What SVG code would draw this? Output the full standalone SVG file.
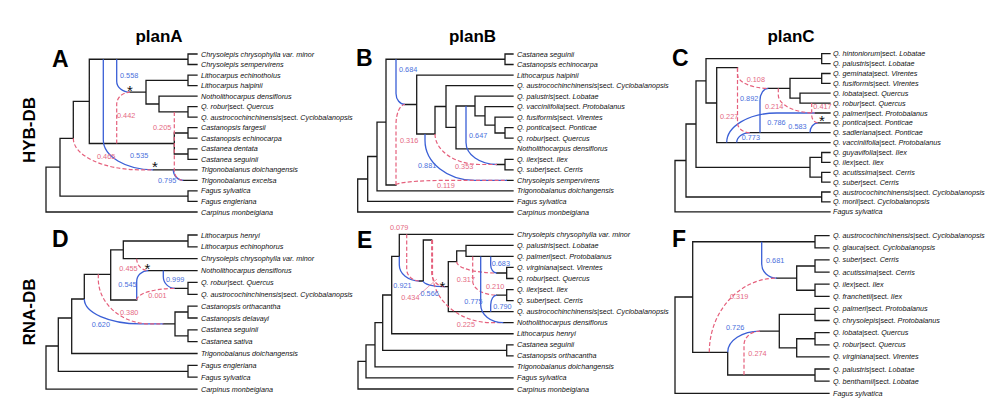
<svg xmlns="http://www.w3.org/2000/svg" width="1000" height="408" viewBox="0 0 1000 408">
<style>
text{font-family:"Liberation Sans",Arial,sans-serif}
.k{fill:none;stroke:#1a1a1a;stroke-width:1.3;stroke-linecap:square}
.b{fill:none;stroke:#3a5fd6;stroke-width:1.3}
.p{fill:none;stroke:#e5607c;stroke-width:1.2;stroke-dasharray:4 2.2}
.t{font-size:7.2px;font-style:italic;fill:#111}
.u{font-style:normal}
.gb{font-size:7.3px;fill:#4a70dc}
.gp{font-size:7.3px;fill:#e56a84}
.L{font-size:23px;font-weight:bold;fill:#000}
.T{font-size:17px;font-weight:bold;text-anchor:middle;fill:#000}
.ast{font-size:15px;text-anchor:middle;fill:#111}
</style>
<rect width="1000" height="408" fill="#fff"/>
<g id="titles">
<text class="T" x="159" y="42">planA</text>
<text class="T" x="472.5" y="42">planB</text>
<text class="T" x="791" y="42">planC</text>
<text class="T" transform="translate(34.5,130) rotate(-90)">HYB-DB</text>
<text class="T" transform="translate(34.5,312) rotate(-90)">RNA-DB</text>
</g>

<!-- ============ Panel A ============ -->
<g id="panelA">
<text class="L" x="52" y="67">A</text>
<g id="A-edges">
<path class="k" d="M46,212 H197 M46,212 V167.2 H60 M60,138.3 V196.2 H188 M197,190.9 H188 V201.4 H197 M60,138.3 H73.3 V101.4 H89.3 M89.3,59.25 V143.5 M89.3,59.25 H188 M89.3,143.5 H174.3 M197,54 H188 V64.5 H197 M197,75.1 H188 V85.6 H197 M146,80.35 H188 M130,92.2 H146 M146,80.35 V104 H159 M159,96.1 V111.95 M159,96.1 H197 M159,111.95 H188 M197,106.7 H188 V117.2 H197 M174.3,133 V154 M174.3,133 H188 M174.3,154 H188 M197,127.7 H188 V138.2 H197 M197,148.8 H188 V159.3 H197 M153.3,169.8 H197 M183.3,180.4 H197"/>
<path class="b" d="M116.7,59.25 V81.2 C116.7,87.27 122.66,92.2 130,92.2"/>
<path class="p" d="M116.7,143.5 V104.2 C116.7,97.58 122.66,92.2 130,92.2"/>
<path class="b" d="M103.3,59.25 V139.8 C103.3,156.36 125.7,169.8 153.3,169.8"/>
<path class="p" d="M73.3,138.3 C73.3,155.69 103.3,169.8 140.3,169.8 H153.3"/>
<path class="b" d="M173.3,169.8 C173.3,175.65 177.78,180.4 183.3,180.4"/>
<path class="p" d="M174.3,111.95 V170.4 C174.3,175.92 178.33,180.4 183.3,180.4"/>
</g>
<g id="A-gamma">
<text class="gb" x="120" y="77.6">0.558</text>
<text class="gp" x="117" y="117.6">0.442</text>
<text class="gp" x="153" y="130">0.205</text>
<text class="gp" x="97" y="159.3">0.465</text>
<text class="gb" x="130" y="158">0.535</text>
<text class="gb" x="158" y="182.6">0.795</text>
<text class="ast" x="130" y="96">*</text>
<text class="ast" x="155" y="172">*</text>
</g>
<g id="A-taxa">
<text class="t" x="201" y="56.5">Chrysolepis chrysophylla var. minor</text>
<text class="t" x="201" y="67">Chrysolepis sempervirens</text>
<text class="t" x="201" y="77.6">Lithocarpus echinotholus</text>
<text class="t" x="201" y="88.1">Lithocarpus haipinii</text>
<text class="t" x="201" y="98.6">Notholithocarpus densiflorus</text>
<text class="t" x="201" y="109.2">Q. robur<tspan class="u">|sect. </tspan>Quercus</text>
<text class="t" x="201" y="119.7">Q. austrocochinchinensis<tspan class="u">|sect. </tspan>Cyclobalanopsis</text>
<text class="t" x="201" y="130.2">Castanopsis fargesii</text>
<text class="t" x="201" y="140.7">Castanopsis echinocarpa</text>
<text class="t" x="201" y="151.3">Castanea dentata</text>
<text class="t" x="201" y="161.8">Castanea seguinii</text>
<text class="t" x="201" y="172.3">Trigonobalanus doichangensis</text>
<text class="t" x="201" y="182.9">Trigonobalanus excelsa</text>
<text class="t" x="201" y="193.4">Fagus sylvatica</text>
<text class="t" x="201" y="203.9">Fagus engleriana</text>
<text class="t" x="201" y="214.5">Carpinus monbeigiana</text>
</g>
</g>

<!-- ============ Panel B ============ -->
<g id="panelB">
<text class="L" x="356" y="66">B</text>
<g id="B-edges">
<path class="k" d="M357.7,212 H513 M357.7,212 V179 H367.7 M367.7,156.5 V201.4 H513 M367.7,156.5 H377 M377,122.1 V190.9 H513 M377,122.1 H386 M386,59.25 V185 H396 M386,59.25 H505 M513,54 H505 V64.5 H513 M405,104.5 H416.7 M416.7,75.1 V134 H435 M416.7,75.1 H513 M435,134 V106.5 H446 M446,85.6 V127.4 H456 M446,85.6 H513 M456,106 V148.8 H513 M456,106 H475 M475,96.1 V115.9 H485 M475,96.1 H513 M485,106.7 V125.1 H495 M485,106.7 H513 M495,117.2 V133 H505 M495,117.2 H513 M513,127.7 H505 V138.2 H513 M497,164.5 H505 M513,159.3 H505 V169.8 H513 M507,180.4 H513"/>
<path class="b" d="M396,59.25 V93.5 C396,99.57 400.03,104.5 405,104.5"/>
<path class="p" d="M396,185 V124.5 C396,113.46 400.03,104.5 405,104.5"/>
<path class="b" d="M425,134 V140.4 C425,162.48 447.4,180.4 475,180.4 H507"/>
<path class="p" d="M396,185 C396,182.46 418.4,180.4 446,180.4 H507"/>
<path class="b" d="M466,106 V142.5 C466,154.64 479.89,164.5 497,164.5"/>
<path class="p" d="M435,134 C435,150.84 455.16,164.5 480,164.5 H497"/>
</g>
<g id="B-gamma">
<text class="gb" x="399" y="71.6">0.684</text>
<text class="gp" x="400" y="143.3">0.316</text>
<text class="gb" x="469" y="137.6">0.647</text>
<text class="gb" x="418" y="167.6">0.881</text>
<text class="gp" x="455" y="169.3">0.353</text>
<text class="gp" x="437" y="187.6">0.119</text>
</g>
<g id="B-taxa">
<text class="t" x="517" y="56.5">Castanea seguinii</text>
<text class="t" x="517" y="67">Castanopsis echinocarpa</text>
<text class="t" x="517" y="77.6">Lithocarpus haipinii</text>
<text class="t" x="517" y="88.1">Q. austrocochinchinensis<tspan class="u">|sect. </tspan>Cyclobalanopsis</text>
<text class="t" x="517" y="98.6">Q. palustris<tspan class="u">|sect. </tspan>Lobatae</text>
<text class="t" x="517" y="109.2">Q. vacciniifolia<tspan class="u">|sect. </tspan>Protobalanus</text>
<text class="t" x="517" y="119.7">Q. fusiformis<tspan class="u">|sect. </tspan>Virentes</text>
<text class="t" x="517" y="130.2">Q. pontica<tspan class="u">|sect. </tspan>Ponticae</text>
<text class="t" x="517" y="140.7">Q. robur<tspan class="u">|sect. </tspan>Quercus</text>
<text class="t" x="517" y="151.3">Notholithocarpus densiflorus</text>
<text class="t" x="517" y="161.8">Q. ilex<tspan class="u">|sect. </tspan>Ilex</text>
<text class="t" x="517" y="172.3">Q. suber<tspan class="u">|sect. </tspan>Cerris</text>
<text class="t" x="517" y="182.9">Chrysolepis sempervirens</text>
<text class="t" x="517" y="193.4">Trigonobalanus doichangensis</text>
<text class="t" x="517" y="203.9">Fagus sylvatica</text>
<text class="t" x="517" y="214.5">Carpinus monbeigiana</text>
</g>
</g>

<!-- ============ Panel C ============ -->
<g id="panelC">
<text class="L" x="672" y="66">C</text>
<g id="C-edges">
<path class="k" d="M675,211.8 H830 M675,211.8 V160.5 H686 M686,124 V197 H821.7 M686,124 H696 M696,80.8 V167.3 H810 M696,80.8 H706 M706,58.65 V103 H716.7 M706,58.65 H821.7 M830,53.7 H821.7 V63.6 H830 M716.7,67.7 V142.6 H830 M716.7,67.7 H737.5 M768.3,88.3 H790 M790,78.4 V98.15 H800 M790,78.4 H821.7 M830,73.5 H821.7 V83.3 H830 M830,93.2 H800 V103.1 H830 M815,113 H830 M818,122.9 H830 M750,132.7 H830 M810,157.45 V177.2 M810,157.45 H821.7 M810,177.2 H821.7 M830,152.5 H821.7 V162.4 H830 M830,172.3 H821.7 V182.1 H830 M830,192 H821.7 V201.9 H830"/>
<path class="b" d="M760,132.7 V100.3 C760,93.68 763.72,88.3 768.3,88.3"/>
<path class="p" d="M737.5,67.7 V74.3 C737.5,82.03 751.3,88.3 768.3,88.3"/>
<path class="b" d="M726.7,142.6 C726.7,126.26 749.1,113 776.7,113 H815"/>
<path class="p" d="M778.3,88.3 V95 C778.3,104.94 794.74,113 815,113"/>
<path class="b" d="M810,132.7 C810,127.29 813.58,122.9 818,122.9"/>
<path class="p" d="M811.7,103.1 V114.9 C811.7,119.32 814.52,122.9 818,122.9"/>
<path class="b" d="M736.7,142.6 C736.7,137.14 742.66,132.7 750,132.7"/>
<path class="p" d="M737.5,67.7 V122.7 C737.5,128.22 743.1,132.7 750,132.7"/>
</g>
<g id="C-gamma">
<text class="gp" x="746.7" y="82">0.108</text>
<text class="gb" x="740" y="101">0.892</text>
<text class="gp" x="765" y="109.3">0.214</text>
<text class="gp" x="813.3" y="109.3">0.417</text>
<text class="gp" x="720" y="118.6">0.227</text>
<text class="gb" x="767.3" y="125.3">0.786</text>
<text class="gb" x="788.3" y="129.3">0.583</text>
<text class="gb" x="741.7" y="140">0.773</text>
<text class="ast" x="822" y="126">*</text>
</g>
<g id="C-taxa">
<text class="t" x="833" y="56.2">Q. hintoniorum<tspan class="u">|sect. </tspan>Lobatae</text>
<text class="t" x="833" y="66.1">Q. palustris<tspan class="u">|sect. </tspan>Lobatae</text>
<text class="t" x="833" y="76">Q. geminata<tspan class="u">|sect. </tspan>Virentes</text>
<text class="t" x="833" y="85.8">Q. fusiformis<tspan class="u">|sect. </tspan>Virentes</text>
<text class="t" x="833" y="95.7">Q. lobata<tspan class="u">|sect. </tspan>Quercus</text>
<text class="t" x="833" y="105.6">Q. robur<tspan class="u">|sect. </tspan>Quercus</text>
<text class="t" x="833" y="115.5">Q. palmeri<tspan class="u">|sect. </tspan>Protobalanus</text>
<text class="t" x="833" y="125.4">Q. pontica<tspan class="u">|sect. </tspan>Ponticae</text>
<text class="t" x="833" y="135.2">Q. sadleriana<tspan class="u">|sect. </tspan>Ponticae</text>
<text class="t" x="833" y="145.1">Q. vacciniifolia<tspan class="u">|sect. </tspan>Protobalanus</text>
<text class="t" x="833" y="155">Q. guyavifolia<tspan class="u">|sect. </tspan>Ilex</text>
<text class="t" x="833" y="164.9">Q. ilex<tspan class="u">|sect. </tspan>Ilex</text>
<text class="t" x="833" y="174.8">Q. acutissima<tspan class="u">|sect. </tspan>Cerris</text>
<text class="t" x="833" y="184.6">Q. suber<tspan class="u">|sect. </tspan>Cerris</text>
<text class="t" x="833" y="194.5">Q. austrocochinchinensis<tspan class="u">|sect. </tspan>Cyclobalanopsis</text>
<text class="t" x="833" y="204.4">Q. morii<tspan class="u">|sect. </tspan>Cyclobalanopsis</text>
<text class="t" x="833" y="214.3">Fagus sylvatica</text>
</g>
</g>

<!-- ============ Panel D ============ -->
<g id="panelD">
<text class="L" x="52" y="247">D</text>
<g id="D-edges">
<path class="k" d="M46,389.1 H197 M46,389.1 V346 H58.3 M58.3,318 V371.3 H188 M58.3,318 H71.7 M71.7,299 V353.5 H197 M71.7,299 H84.3 M84.3,299 V274.3 H110.7 M110.7,249.9 V300 H136.7 M110.7,249.9 H123.3 M123.3,241 V258.7 H197 M123.3,241 H188 M197,235 H188 V246.9 H197 M148.3,270.6 H197 M175,288.4 H188 M197,282.4 H188 V294.3 H197 M163.3,323.9 H175 M175,312 V335.8 M175,312 H188 M175,335.8 H188 M197,306.1 H188 V318 H197 M197,329.8 H188 V341.7 H197 M197,365.4 H188 V377.2 H197"/>
<path class="b" d="M136.7,300 V281.6 C136.7,275.53 141.9,270.6 148.3,270.6"/>
<path class="p" d="M136.7,258.7 C136.7,265.27 141.9,270.6 148.3,270.6"/>
<path class="b" d="M163.3,270.6 V276.4 C163.3,283.02 168.54,288.4 175,288.4"/>
<path class="p" d="M136.7,300 C136.7,293.6 153.86,288.4 175,288.4"/>
<path class="b" d="M84.3,299 C84.3,312.74 109.39,323.9 140.3,323.9 H163.3"/>
<path class="p" d="M98.3,274.3 V278.9 C98.3,303.74 121.6,323.9 150.3,323.9 H163.3"/>
</g>
<g id="D-gamma">
<text class="gp" x="119.3" y="271">0.455</text>
<text class="gb" x="118.3" y="287">0.545</text>
<text class="gb" x="166" y="281.6">0.999</text>
<text class="gp" x="148.3" y="297.6">0.001</text>
<text class="gp" x="120" y="315">0.380</text>
<text class="gb" x="91.7" y="327">0.620</text>
<text class="ast" x="147.3" y="274.3">*</text>
</g>
<g id="D-taxa">
<text class="t" x="201" y="237.5">Lithocarpus henryi</text>
<text class="t" x="201" y="249.4">Lithocarpus echinophorus</text>
<text class="t" x="201" y="261.2">Chrysolepis chrysophylla var. minor</text>
<text class="t" x="201" y="273.1">Notholithocarpus densiflorus</text>
<text class="t" x="201" y="284.9">Q. robur<tspan class="u">|sect. </tspan>Quercus</text>
<text class="t" x="201" y="296.8">Q. austrocochinchinensis<tspan class="u">|sect. </tspan>Cyclobalanopsis</text>
<text class="t" x="201" y="308.6">Castanopsis orthacantha</text>
<text class="t" x="201" y="320.5">Castanopsis delavayi</text>
<text class="t" x="201" y="332.3">Castanea seguinii</text>
<text class="t" x="201" y="344.2">Castanea sativa</text>
<text class="t" x="201" y="356">Trigonobalanus doichangensis</text>
<text class="t" x="201" y="367.9">Fagus engleriana</text>
<text class="t" x="201" y="379.7">Fagus sylvatica</text>
<text class="t" x="201" y="391.6">Carpinus monbeigiana</text>
</g>
</g>

<!-- ============ Panel E ============ -->
<g id="panelE">
<text class="L" x="357" y="248">E</text>
<g id="E-edges">
<path class="k" d="M358,389 H513 M358,389 V361.4 H366 M366,344.8 V377.95 H513 M366,344.8 H375 M375,322.7 V366.9 H513 M375,322.7 H382.7 M382.7,295 V350.3 H506.7 M382.7,295 H391.7 M513,344.8 H506.7 V355.85 H513 M391.7,256.4 V333.75 H513 M391.7,256.4 H399.3 M399.3,256.4 V234.3 H513 M419.3,281 H423.3 M423.3,281 V240 H431.7 M445,286.7 H448.3 M448.3,261.7 V311.65 H513 M448.3,261.7 H456.7 M456.7,261.7 V250.9 H466 M513,245.35 H466 V256.4 H513 M496.7,273 H506.7 M513,267.45 H506.7 V278.5 H513 M496.7,295.1 H506.7 M513,289.55 H506.7 V300.6 H513 M503.3,322.7 H513"/>
<path class="b" d="M399.3,256.4 V265 C399.3,273.83 408.26,281 419.3,281"/>
<path class="p" d="M406.7,234.3 V269 C406.7,275.62 412.34,281 419.3,281"/>
<path class="b" d="M423.3,281 C423.3,284.15 433.02,286.7 445,286.7"/>
<path class="p" d="M431.7,240 V272.7 C431.7,280.43 437.66,286.7 445,286.7"/>
<path class="p" d="M432.5,240 V272.7 C432.5,300.3 459.4,322.7 491.7,322.7 H503.3"/>
<path class="p" d="M456.7,261.7 C456.7,267.94 474.62,273 496.7,273"/>
<path class="b" d="M490.7,256.4 V265 C490.7,269.42 493.39,273 496.7,273"/>
<path class="p" d="M472.7,256.4 V281.1 C472.7,288.83 483.45,295.1 496.7,295.1"/>
<path class="b" d="M480.7,256.4 V304.7 C480.7,314.64 490.82,322.7 503.3,322.7"/>
<path class="b" d="M490.7,311.65 V305.1 C490.7,299.58 493.39,295.1 496.7,295.1"/>
<path fill="none" stroke="#e5607c" stroke-width="0.6" d="M419,295 L437,279"/>
</g>
<g id="E-gamma">
<text class="gp" x="390" y="230.3">0.079</text>
<text class="gb" x="393.3" y="287.6">0.921</text>
<text class="gp" x="401.2" y="300.3">0.434</text>
<text class="gb" x="420.5" y="296">0.566</text>
<text class="gp" x="456.7" y="281.6">0.317</text>
<text class="gb" x="491.7" y="266">0.683</text>
<text class="gp" x="486" y="289.3">0.210</text>
<text class="gb" x="464.3" y="303.6">0.775</text>
<text class="gb" x="493.3" y="309.3">0.790</text>
<text class="gp" x="456.7" y="326.6">0.225</text>
<text class="ast" x="442.5" y="292">*</text>
</g>
<g id="E-taxa">
<text class="t" x="517" y="236.8">Chrysolepis chrysophylla var. minor</text>
<text class="t" x="517" y="247.85">Q. palustris<tspan class="u">|sect. </tspan>Lobatae</text>
<text class="t" x="517" y="258.9">Q. palmeri<tspan class="u">|sect. </tspan>Protobalanus</text>
<text class="t" x="517" y="269.95">Q. virginiana<tspan class="u">|sect. </tspan>Virentes</text>
<text class="t" x="517" y="281">Q. robur<tspan class="u">|sect. </tspan>Quercus</text>
<text class="t" x="517" y="292.05">Q. ilex<tspan class="u">|sect. </tspan>Ilex</text>
<text class="t" x="517" y="303.1">Q. suber<tspan class="u">|sect. </tspan>Cerris</text>
<text class="t" x="517" y="314.15">Q. austrocochinchinensis<tspan class="u">|sect. </tspan>Cyclobalanopsis</text>
<text class="t" x="517" y="325.2">Notholithocarpus densiflorus</text>
<text class="t" x="517" y="336.25">Lithocarpus henryi</text>
<text class="t" x="517" y="347.3">Castanea seguinii</text>
<text class="t" x="517" y="358.35">Castanopsis orthacantha</text>
<text class="t" x="517" y="369.4">Trigonobalanus doichangensis</text>
<text class="t" x="517" y="380.45">Fagus sylvatica</text>
<text class="t" x="517" y="391.5">Carpinus monbeigiana</text>
</g>
</g>

<!-- ============ Panel F ============ -->
<g id="panelF">
<text class="L" x="672" y="247">F</text>
<g id="F-edges">
<path class="k" d="M675,393.3 H829 M675,393.3 V297 H692.7 M692.7,241.75 V352.3 H727.7 M692.7,241.75 H815 M829,235.7 H815 V247.8 H829 M776.7,278.1 H796.7 M796.7,266 V290.25 M796.7,266 H815 M796.7,290.25 H815 M829,259.9 H815 V272.1 H829 M829,284.2 H815 V296.3 H829 M760,331.1 H779.3 M779.3,314.45 V347.8 H796.7 M779.3,314.45 H815 M829,308.4 H815 V320.5 H829 M796.7,338.75 V356.9 H829 M796.7,338.75 H815 M829,332.7 H815 V344.8 H829 M727.7,352.3 V375 H815 M829,369 H815 V381.1 H829"/>
<path class="b" d="M761.7,241.75 V264.1 C761.7,271.83 768.42,278.1 776.7,278.1"/>
<path class="p" d="M709.3,352.3 C709.3,311.34 739.5,278.1 776.7,278.1"/>
<path class="b" d="M727.7,352.3 C727.7,340.6 742.17,331.1 760,331.1"/>
<path class="p" d="M744,375 V345.1 C744,337.37 751.17,331.1 760,331.1"/>
</g>
<g id="F-gamma">
<text class="gb" x="766" y="262.6">0.681</text>
<text class="gp" x="730" y="299.3">0.319</text>
<text class="gb" x="726" y="330.3">0.726</text>
<text class="gp" x="748.3" y="356">0.274</text>
</g>
<g id="F-taxa">
<text class="t" x="833" y="238.2">Q. austrocochinchinensis<tspan class="u">|sect. </tspan>Cyclobalanopsis</text>
<text class="t" x="833" y="250.3">Q. glauca<tspan class="u">|sect. </tspan>Cyclobalanopsis</text>
<text class="t" x="833" y="262.4">Q. suber<tspan class="u">|sect. </tspan>Cerris</text>
<text class="t" x="833" y="274.6">Q. acutissima<tspan class="u">|sect. </tspan>Cerris</text>
<text class="t" x="833" y="286.7">Q. ilex<tspan class="u">|sect. </tspan>Ilex</text>
<text class="t" x="833" y="298.8">Q. franchetii<tspan class="u">|sect. </tspan>Ilex</text>
<text class="t" x="833" y="310.9">Q. palmeri<tspan class="u">|sect. </tspan>Protobalanus</text>
<text class="t" x="833" y="323">Q. chrysolepis<tspan class="u">|sect. </tspan>Protobalanus</text>
<text class="t" x="833" y="335.2">Q. lobata<tspan class="u">|sect. </tspan>Quercus</text>
<text class="t" x="833" y="347.3">Q. robur<tspan class="u">|sect. </tspan>Quercus</text>
<text class="t" x="833" y="359.4">Q. virginiana<tspan class="u">|sect. </tspan>Virentes</text>
<text class="t" x="833" y="371.5">Q. palustris<tspan class="u">|sect. </tspan>Lobatae</text>
<text class="t" x="833" y="383.6">Q. benthamii<tspan class="u">|sect. </tspan>Lobatae</text>
<text class="t" x="833" y="395.8">Fagus sylvatica</text>
</g>
</g>
</svg>
